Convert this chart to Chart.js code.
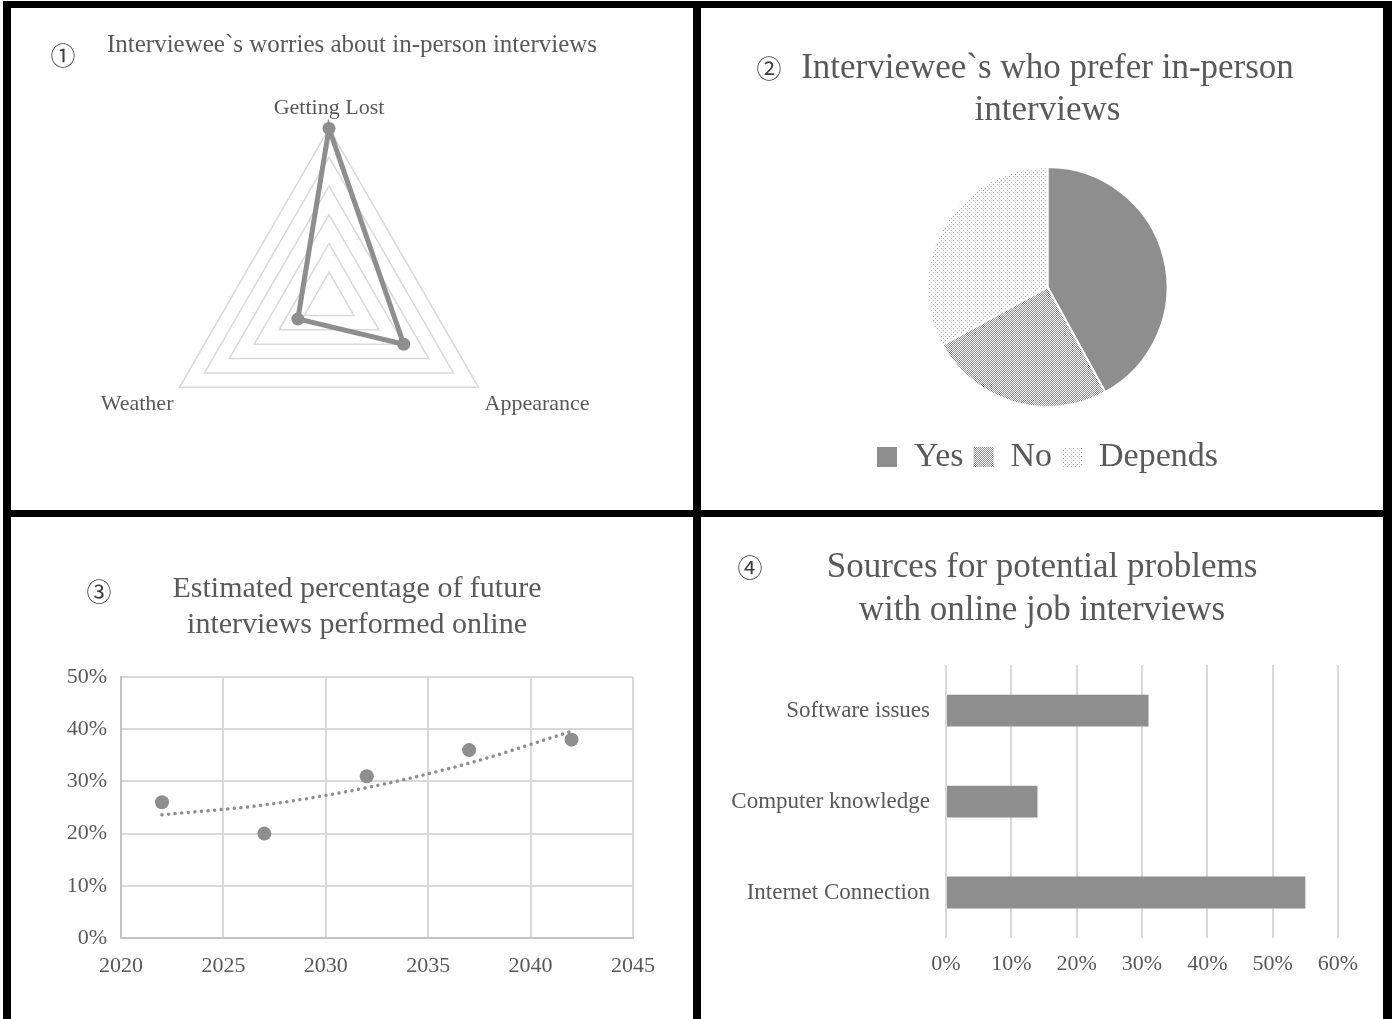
<!DOCTYPE html>
<html>
<head>
<meta charset="utf-8">
<script src="https://cdn.jsdelivr.net/npm/chart.js@4.4.0/dist/chart.umd.min.js"></script>
<style>
    html, body { margin: 0; padding: 0; background: #fff; }
    #frame { position: absolute; left: 3px; top: 1px; width: 1389px; height: 1018px; background: #000; }
    .panel { position: absolute; background: #fff; }
    .panel canvas { display: block; }
    .num {
        position: absolute;
        font-family: "Noto Sans CJK JP", "DejaVu Sans", sans-serif;
        font-size: 25px;
        line-height: 1;
        color: #404040;
        transform: translate(-50%, -50%);
    }
</style>
</head>
<body>
<div id="frame"></div>
<div class="panel" style="left:11px;top:8px;width:682px;height:502px"><canvas id="worryChart" width="682" height="502"></canvas></div>
<div class="panel" style="left:701px;top:8px;width:682px;height:502px"><canvas id="preferChart" width="682" height="502"></canvas></div>
<div class="panel" style="left:11px;top:517px;width:682px;height:502px"><canvas id="onlineChart" width="682" height="502"></canvas></div>
<div class="panel" style="left:701px;top:517px;width:682px;height:502px"><canvas id="problemChart" width="682" height="502"></canvas></div>
<span class="num" style="left:63px;top:54px">①</span>
<span class="num" style="left:769px;top:67px">②</span>
<span class="num" style="left:99px;top:590px">③</span>
<span class="num" style="left:750px;top:566px">④</span>

<script>
// Chart data
const worryLabels = ['Getting Lost', 'Appearance', 'Weather'];
const worryValues = [6, 3, 1.25];

const preferLabels = ['Yes', 'No', 'Depends'];
const preferValues = [42, 25, 33];

const years = [2022, 2027, 2032, 2037, 2042];
const onlineShare = [26, 20, 31, 36, 38];
const trendShare = [23.6, 25.5, 28.8, 33.5, 39.6];

const problemLabels = ['Software issues', 'Computer knowledge', 'Internet Connection'];
const problemShare = [31, 14, 55];

// Shared look
const textGray = '#595959';
const markGray = '#8e8e8e';
const gridGray = '#d9d9d9';
const serif = '"Liberation Serif", "Times New Roman", serif';

Chart.defaults.font.family = serif;
Chart.defaults.color = textGray;
Chart.defaults.animation = false;
Chart.defaults.plugins.tooltip.enabled = false;

// Small fill patterns for the pie slices
function makePattern(size, draw) {
    const c = document.createElement('canvas');
    c.width = size;
    c.height = size;
    const g = c.getContext('2d');
    g.fillStyle = '#ffffff';
    g.fillRect(0, 0, size, size);
    draw(g);
    return g.createPattern(c, 'repeat');
}

const checkPattern = makePattern(4, g => {
    g.fillStyle = '#8a8a8a';
    for (let x = 0; x < 4; x++) {
        for (let y = 0; y < 4; y++) {
            if ((x + y) % 2 === 0) g.fillRect(x, y, 1, 1);
        }
    }
});

const dotPattern = makePattern(4, g => {
    g.fillStyle = '#b0b0b0';
    g.fillRect(0, 0, 1, 1);
    g.fillRect(2, 2, 1, 1);
});

// ① radar
new Chart(document.getElementById('worryChart'), {
    type: 'radar',
    data: {
        labels: worryLabels,
        datasets: [{
            data: worryValues,
            borderColor: markGray,
            backgroundColor: markGray,
            borderWidth: 5,
            fill: false,
            pointRadius: 6.5,
            pointBackgroundColor: markGray,
            pointBorderWidth: 0
        }]
    },
    options: {
        responsive: false,
        layout: { padding: { top: 0, left: 0, right: 0, bottom: 19 } },
        plugins: {
            title: {
                display: true,
                text: 'Interviewee`s worries about in-person interviews',
                font: { size: 25, weight: 'normal' },
                color: textGray,
                padding: { top: 22, bottom: 19 }
            },
            // empty legend, only used to push the radar left
            legend: {
                display: true,
                position: 'right',
                fullSize: false,
                labels: { filter: () => false, padding: 36 }
            }
        },
        scales: {
            r: {
                min: 0,
                max: 6,
                ticks: { display: false, stepSize: 1 },
                angleLines: { display: false },
                grid: { color: gridGray, lineWidth: 1.5 },
                pointLabels: {
                    font: { size: 22 },
                    color: textGray,
                    padding: 7
                }
            }
        }
    }
});

// ② pie
new Chart(document.getElementById('preferChart'), {
    type: 'pie',
    data: {
        labels: preferLabels,
        datasets: [{
            data: preferValues,
            backgroundColor: [markGray, checkPattern, dotPattern],
            borderColor: '#ffffff',
            borderWidth: 2,
            radius: 120
        }]
    },
    options: {
        responsive: false,
        layout: { padding: { top: 0, left: 11, right: 0, bottom: 26 } },
        plugins: {
            title: {
                display: true,
                text: ['Interviewee`s who prefer in-person', 'interviews'],
                font: { size: 35, weight: 'normal', lineHeight: 1.2 },
                color: textGray,
                padding: { top: 40, bottom: 12 }
            },
            legend: {
                position: 'bottom',
                labels: {
                    font: { size: 34 },
                    color: textGray,
                    boxWidth: 20,
                    boxHeight: 20,
                    padding: 10,
                    generateLabels: chart => Chart.controllers.pie.overrides.plugins.legend.labels
                        .generateLabels(chart).map(item => ({ ...item, lineWidth: 0 }))
                }
            }
        }
    }
});

// ③ scatter with trend
new Chart(document.getElementById('onlineChart'), {
    type: 'scatter',
    data: {
        datasets: [
            {
                data: years.map((y, i) => ({ x: y, y: onlineShare[i] })),
                backgroundColor: markGray,
                borderWidth: 0,
                pointRadius: 7
            },
            {
                type: 'line',
                data: years.map((y, i) => ({ x: y, y: trendShare[i] })),
                borderColor: markGray,
                borderWidth: 3.5,
                borderDash: [0.01, 6.6],
                borderCapStyle: 'round',
                cubicInterpolationMode: 'monotone',
                pointRadius: 0,
                fill: false
            }
        ]
    },
    options: {
        responsive: false,
        layout: { padding: { top: 0, left: 10, right: 0, bottom: 0 } },
        plugins: {
            legend: { display: false },
            title: {
                display: true,
                text: ['Estimated percentage of future', 'interviews performed online'],
                font: { size: 30, weight: 'normal', lineHeight: 1.2 },
                color: textGray,
                padding: { top: 54, bottom: 34 }
            }
        },
        scales: {
            x: {
                type: 'linear',
                min: 2020,
                max: 2045,
                ticks: { stepSize: 5, padding: 15, font: { size: 22 }, callback: v => String(v) },
                grid: { color: gridGray, lineWidth: 2, drawTicks: false },
                border: { color: '#c4c4c4', width: 2 },
                afterFit: s => { s.height = 81; }
            },
            y: {
                min: 0,
                max: 50,
                ticks: { stepSize: 10, padding: 14, font: { size: 22 }, callback: v => v + '%' },
                grid: { color: gridGray, lineWidth: 2, drawTicks: false },
                border: { color: '#c4c4c4', width: 2 },
                afterFit: s => { s.width = 100; }
            },
            // spacer on the right so the title stays centred on the panel
            spacer: {
                type: 'linear',
                position: 'right',
                ticks: { display: false },
                grid: { display: false },
                border: { display: false },
                afterFit: s => { s.width = 60; }
            }
        }
    }
});

// ④ horizontal bars
new Chart(document.getElementById('problemChart'), {
    type: 'bar',
    data: {
        labels: problemLabels,
        datasets: [{
            data: problemShare,
            backgroundColor: markGray,
            categoryPercentage: 1,
            barPercentage: 0.35
        }]
    },
    options: {
        responsive: false,
        indexAxis: 'y',
        layout: { padding: 0 },
        plugins: {
            legend: { display: false },
            title: {
                display: true,
                text: ['Sources for potential problems', 'with online job interviews'],
                font: { size: 35, weight: 'normal', lineHeight: 1.23 },
                color: textGray,
                padding: { top: 29.5, bottom: 32.5 }
            }
        },
        scales: {
            x: {
                min: 0,
                max: 60,
                ticks: { stepSize: 10, padding: 13, font: { size: 22 }, callback: v => v + '%' },
                grid: { color: gridGray, lineWidth: 2, drawTicks: false },
                border: { display: false },
                afterFit: s => { s.height = 81; }
            },
            y: {
                ticks: { padding: 16, font: { size: 23 } },
                grid: { display: false, drawTicks: false },
                border: { display: false },
                afterFit: s => { s.width = 245; }
            },
            spacer: {
                type: 'linear',
                position: 'right',
                ticks: { display: false },
                grid: { display: false },
                border: { display: false },
                afterFit: s => { s.width = 45; }
            }
        }
    }
});
</script>
</body>
</html>
